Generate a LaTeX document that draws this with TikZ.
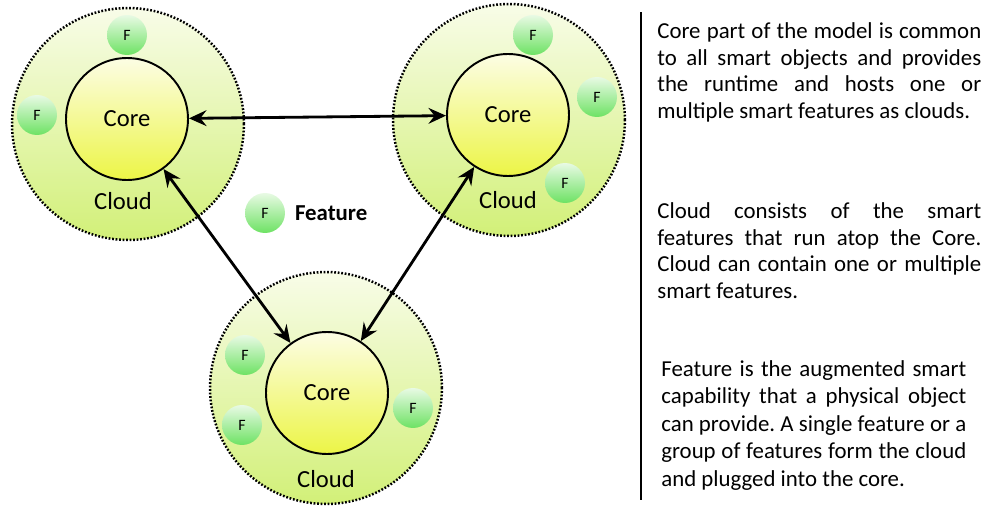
\documentclass[tikz,border=0pt]{standalone}
\usepackage{fontspec}
\setmainfont{Carlito}
\usepackage{tikz}
\usetikzlibrary{positioning,arrows.meta}
\definecolor{cloudtop}{RGB}{248,252,232}
\definecolor{cloudbot}{RGB}{210,240,120}
\definecolor{coretop}{RGB}{252,253,228}
\definecolor{corebot}{RGB}{236,245,70}
\definecolor{feattop}{RGB}{232,250,228}
\definecolor{featbot}{RGB}{110,226,100}
\frenchspacing
\hyphenpenalty=10000

\begin{document}
\begin{tikzpicture}[
x = 0.02cm, y = -0.02cm,
cloud/.style = {circle, minimum size = 4.64cm, draw, line width = 1.4pt,
  dash pattern = on 1pt off 1pt, top color = cloudtop, bottom color = cloudbot},
core/.style = {circle, minimum size = 2.44cm, draw, line width = 1.1pt,
  top color = coretop, bottom color = corebot, font = \fontsize{14}{16}\selectfont},
feat/.style = {circle, minimum size = 0.8cm, inner sep = 0pt,
  top color = feattop, bottom color = featbot, font = \fontsize{9}{10}\selectfont},
lbl/.style = {font = \fontsize{14}{16}\selectfont},
desc/.style = {anchor = north west, inner sep = 0pt, text width = 6.48cm,
  align = justify, font = \fontsize{13}{15.3}\selectfont},
link/.style = {{Stealth[length=10pt,width=9pt,inset=3.5pt]}-{Stealth[length=10pt,width=9pt,inset=3.5pt]}, line width = 1.6pt}
]
\useasboundingbox (0,0) rectangle (988,507);

\node[cloud] (cloud1) at (128,124) {};
\node[cloud] (cloud2) at (509,120) {};
\node[cloud] (cloud3) at (326,388) {};

\node[core] (core1) at (127,119) {Core};
\node[core] (core2) at (508,115) {Core};
\node[core] (core3) at (327,393) {Core};

\node[lbl] (cloudlbl1) at (123,201) {Cloud};
\node[lbl] (cloudlbl2) at (508,200) {Cloud};
\node[lbl] (cloudlbl3) at (326,479) {Cloud};

\node[feat] (f1a) at (127,35) {F};
\node[feat] (f1b) at (37,115) {F};
\node[feat] (f2a) at (533,35) {F};
\node[feat] (f2b) at (597,97) {F};
\node[feat] (f2c) at (565,183) {F};
\node[feat] (f3a) at (245,355) {F};
\node[feat] (f3b) at (242,425) {F};
\node[feat] (f3c) at (413,408) {F};

\node[feat] (legendf) at (265,213) {F};
\node[lbl, right = 2pt of legendf, font = \fontsize{13}{15}\selectfont\bfseries] (legend) {Feature};

\draw[link] (core1) -- (core2);
\draw[link] (core1) -- (core3);
\draw[link] (core2) -- (core3);

\coordinate (sepTop) at (641,12);
\coordinate (sepBot) at (641,500);
\draw[line width = 1.4pt] (sepTop) -- (sepBot);

\node[desc] (descCore) at (657,22) {Core part of the model is common\linebreak to all smart objects and provides\linebreak the runtime and hosts one or\linebreak multiple smart features as clouds.};
\node[desc] (descCloud) at (657,202) {Cloud consists of the smart\linebreak features that run atop the Core.\linebreak Cloud can contain one or multiple\linebreak smart features.};
\node[desc, text width = 6.1cm, font = \fontsize{13}{15.7}\selectfont] (descFeat) at (661,360) {Feature is the augmented smart\linebreak capability that a physical object\linebreak can provide. A single feature or a\linebreak group of features form the cloud\linebreak and plugged into the core.};
\end{tikzpicture}
\end{document}
